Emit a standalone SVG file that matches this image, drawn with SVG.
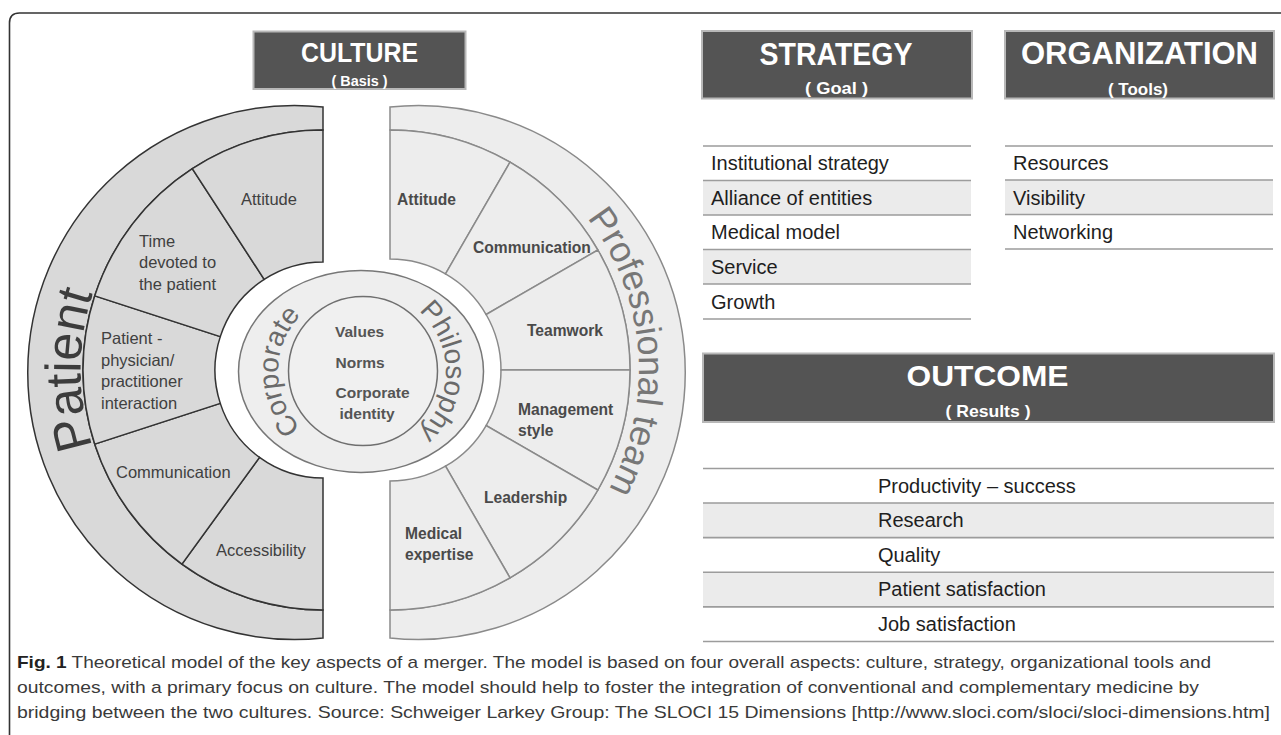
<svg xmlns="http://www.w3.org/2000/svg" width="1281" height="735" viewBox="0 0 1281 735">
<style>
.hdr{fill:#545454;stroke:#b8b8b8;stroke-width:2}
.ht{font-family:"Liberation Sans",Arial,sans-serif;font-weight:bold;fill:#ffffff;text-anchor:middle}
.tt{font-family:"Liberation Sans",Arial,sans-serif;font-size:20px;fill:#1e1e1e}
.rule{stroke:#9c9c9c;stroke-width:1.6;fill:none}
.shade{fill:#ebebeb}
.lsec{fill:#d9d9d9;stroke:#333333;stroke-width:1.5}
.rsec{fill:#ededed;stroke:#8a8a8a;stroke-width:1.5}
.ll{font-family:"Liberation Sans",Arial,sans-serif;font-size:16.5px;fill:#404040}
.rl{font-family:"Liberation Sans",Arial,sans-serif;font-size:15.6px;font-weight:bold;fill:#4a4a4a}
.cl{font-family:"Liberation Sans",Arial,sans-serif;font-size:15.5px;font-weight:bold;fill:#555555}
.cap{font-family:"Liberation Sans Narrow","Liberation Sans",Arial,sans-serif;font-size:17px;fill:#3a3a3a}
.arc{font-family:"Liberation Sans",Arial,sans-serif;text-anchor:middle}
</style>
<defs>
<path id="pPatient" d="M 166.16 556.91 A 247 247 0 0 1 166.16 183.09"/>
<path id="pProf" d="M 353.20 123.73 A 249 249 0 1 1 392.17 618.99"/>
<path id="pCorp" d="M 347.41 452.25 A 84 82 0 0 1 347.41 290.75"/>
<path id="pPhil" d="M 376.59 290.75 A 84 82 0 0 1 376.59 452.25"/>
</defs>
<rect width="1281" height="735" fill="#ffffff"/>
<path d="M 9.5 740 L 9.5 23 Q 9.5 13 19.5 13 L 1290 13" fill="none" stroke="#333333" stroke-width="1.6"/>

<g id="culture-header">
<rect class="hdr" x="253.5" y="31.5" width="212" height="57.5"/>
<text class="ht" x="359.5" y="61.5" font-size="28" textLength="117" lengthAdjust="spacingAndGlyphs">CULTURE</text>
<text class="ht" x="359.5" y="86" font-size="15" textLength="56" lengthAdjust="spacingAndGlyphs">( Basis )</text>
</g>

<g id="patient-band">
<path class="lsec" d="M 323 107 A 267 267 0 1 0 323 638 L 323 610 A 240 240 0 0 1 323 130 Z"/>
<text class="arc" font-size="50" fill="#3c3c3c"><textPath href="#pPatient" startOffset="50%">Patient</textPath></text>
</g>
<g id="patient-sectors">
<path class="lsec" d="M 323 610 A 240 240 0 0 1 181.93 564.16 L 259.52 457.37 A 108 108 0 0 0 323 478 Z"/>
<path class="lsec" d="M 181.93 564.16 A 240 240 0 0 1 94.74 444.16 L 220.28 403.37 A 108 108 0 0 0 259.52 457.37 Z"/>
<path class="lsec" d="M 94.74 444.16 A 240 240 0 0 1 94.74 295.84 L 220.28 336.63 A 108 108 0 0 0 220.28 403.37 Z"/>
<path class="lsec" d="M 94.74 295.84 A 240 240 0 0 1 192.30 168.71 L 264.18 279.42 A 108 108 0 0 0 220.28 336.63 Z"/>
<path class="lsec" d="M 192.30 168.71 A 240 240 0 0 1 323 130 L 323 262 A 108 108 0 0 0 264.18 279.42 Z"/>
<text class="ll" x="241" y="205">Attitude</text>
<text class="ll" x="139" y="246.5">Time</text>
<text class="ll" x="139" y="268">devoted to</text>
<text class="ll" x="139" y="290">the patient</text>
<text class="ll" x="101" y="344">Patient -</text>
<text class="ll" x="101" y="365.5">physician/</text>
<text class="ll" x="101" y="387">practitioner</text>
<text class="ll" x="101" y="408.5">interaction</text>
<text class="ll" x="116" y="477.5">Communication</text>
<text class="ll" x="216" y="556">Accessibility</text>
</g>

<g id="team-band">
<path class="rsec" d="M 390 107 A 267 267 0 1 1 390 638 L 390 610 A 240 240 0 0 0 390 130 Z"/>
<text class="arc" font-size="36" fill="#777777"><textPath href="#pProf" startOffset="50%">Professional team</textPath></text>
</g>
<g id="team-sectors">
<path class="rsec" d="M 390 130 A 240 240 0 0 1 510 162.16 L 445.5 273.87 A 111 111 0 0 0 390 259 Z"/>
<path class="rsec" d="M 510 162.16 A 240 240 0 0 1 597.85 250 L 486.13 314.5 A 111 111 0 0 0 445.5 273.87 Z"/>
<path class="rsec" d="M 597.85 250 A 240 240 0 0 1 630 370 L 501 370 A 111 111 0 0 0 486.13 314.5 Z"/>
<path class="rsec" d="M 630 370 A 240 240 0 0 1 597.85 490 L 486.13 425.5 A 111 111 0 0 0 501 370 Z"/>
<path class="rsec" d="M 597.85 490 A 240 240 0 0 1 510 577.85 L 445.5 466.13 A 111 111 0 0 0 486.13 425.5 Z"/>
<path class="rsec" d="M 510 577.85 A 240 240 0 0 1 390 610 L 390 481 A 111 111 0 0 0 445.5 466.13 Z"/>
<text class="rl" x="397" y="205">Attitude</text>
<text class="rl" x="473" y="253">Communication</text>
<text class="rl" x="527" y="335.5">Teamwork</text>
<text class="rl" x="518" y="415">Management</text>
<text class="rl" x="518" y="436">style</text>
<text class="rl" x="484" y="503">Leadership</text>
<text class="rl" x="405" y="539">Medical</text>
<text class="rl" x="405" y="560">expertise</text>
</g>

<g id="corporate-philosophy">
<ellipse cx="361" cy="371.5" rx="122.5" ry="101" fill="#eeeeee" stroke="#777777" stroke-width="1.5"/>
<circle cx="363" cy="371" r="74.5" fill="#f0f0f0" stroke="#6f6f6f" stroke-width="1.5"/>
<text class="arc" font-size="28" fill="#6a6a6a"><textPath href="#pCorp" startOffset="50%">Corporate</textPath></text>
<text class="arc" font-size="28" fill="#6a6a6a"><textPath href="#pPhil" startOffset="50%">Philosophy</textPath></text>
<text class="cl" x="335" y="336.5">Values</text>
<text class="cl" x="335.5" y="367.5">Norms</text>
<text class="cl" x="335.5" y="398">Corporate</text>
<text class="cl" x="339.5" y="418.5">identity</text>
</g>

<g id="strategy">
<rect class="hdr" x="702" y="31" width="270" height="67.5"/>
<text class="ht" x="836" y="65" font-size="31" textLength="153" lengthAdjust="spacingAndGlyphs">STRATEGY</text>
<text class="ht" x="836.5" y="94" font-size="16.5" textLength="63" lengthAdjust="spacingAndGlyphs">( Goal )</text>
<rect class="shade" x="703" y="180.5" width="268" height="34.5"/>
<rect class="shade" x="703" y="249.5" width="268" height="34.5"/>
<path class="rule" d="M 703 146 H 971 M 703 180.5 H 971 M 703 215 H 971 M 703 249.5 H 971 M 703 284 H 971 M 703 319 H 971"/>
<text class="tt" x="711" y="170">Institutional strategy</text>
<text class="tt" x="711" y="204.5">Alliance of entities</text>
<text class="tt" x="711" y="239">Medical model</text>
<text class="tt" x="711" y="274">Service</text>
<text class="tt" x="711" y="308.5">Growth</text>
</g>

<g id="organization">
<rect class="hdr" x="1005" y="31" width="269" height="67.5"/>
<text class="ht" x="1139.5" y="64" font-size="31" textLength="237" lengthAdjust="spacingAndGlyphs">ORGANIZATION</text>
<text class="ht" x="1138" y="95" font-size="16.5" textLength="60" lengthAdjust="spacingAndGlyphs">( Tools)</text>
<rect class="shade" x="1005" y="180" width="268" height="34.5"/>
<path class="rule" d="M 1005 146 H 1273 M 1005 180 H 1273 M 1005 214.5 H 1273 M 1005 249 H 1273"/>
<text class="tt" x="1013" y="170">Resources</text>
<text class="tt" x="1013" y="204.5">Visibility</text>
<text class="tt" x="1013" y="239">Networking</text>
</g>

<g id="outcome">
<rect class="hdr" x="703" y="353.5" width="571" height="68.5"/>
<text class="ht" x="987.5" y="385.5" font-size="30" textLength="162" lengthAdjust="spacingAndGlyphs">OUTCOME</text>
<text class="ht" x="988" y="417" font-size="17" textLength="85" lengthAdjust="spacingAndGlyphs">( Results )</text>
<rect class="shade" x="703" y="503" width="571" height="34.6"/>
<rect class="shade" x="703" y="572.3" width="571" height="34.6"/>
<path class="rule" d="M 703 468.5 H 1274 M 703 503 H 1274 M 703 537.6 H 1274 M 703 572.3 H 1274 M 703 606.9 H 1274 M 703 641.5 H 1274"/>
<text class="tt" x="878" y="492.5">Productivity – success</text>
<text class="tt" x="878" y="527">Research</text>
<text class="tt" x="878" y="561.7">Quality</text>
<text class="tt" x="878" y="596.3">Patient satisfaction</text>
<text class="tt" x="878" y="631">Job satisfaction</text>
</g>

<g id="caption">
<text class="cap" x="17" y="668" textLength="1194" lengthAdjust="spacingAndGlyphs"><tspan font-weight="bold" fill="#222222">Fig. 1</tspan> Theoretical model of the key aspects of a merger. The model is based on four overall aspects: culture, strategy, organizational tools and</text>
<text class="cap" x="17" y="693" textLength="1182" lengthAdjust="spacingAndGlyphs">outcomes, with a primary focus on culture. The model should help to foster the integration of conventional and complementary medicine by</text>
<text class="cap" x="17" y="718" textLength="1253" lengthAdjust="spacingAndGlyphs">bridging between the two cultures. Source: Schweiger Larkey Group: The SLOCI 15 Dimensions [http://www.sloci.com/sloci/sloci-dimensions.htm]</text>
</g>
</svg>
